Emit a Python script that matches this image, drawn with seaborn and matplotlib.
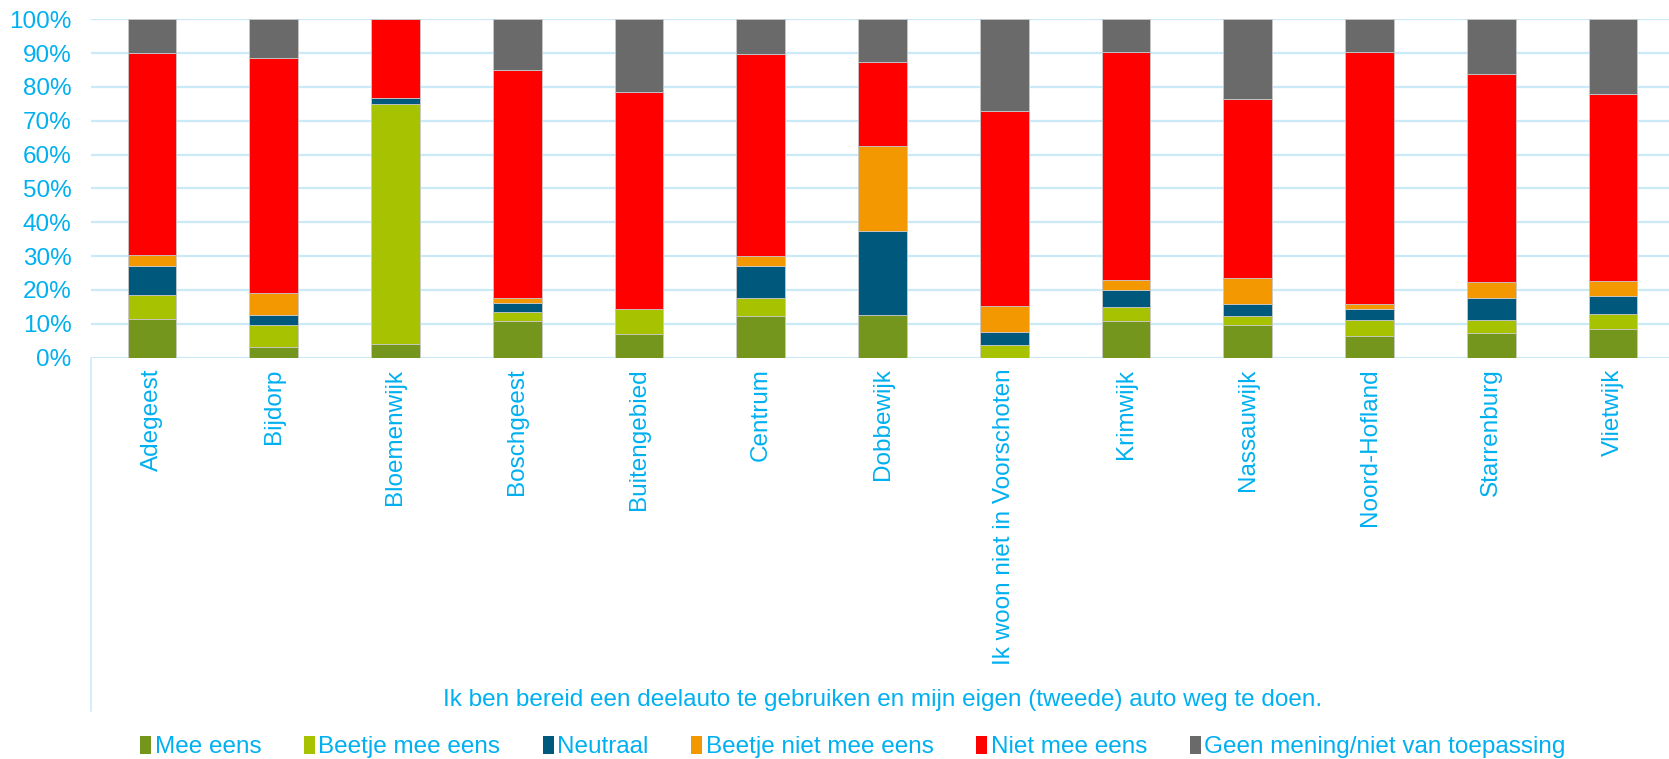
import numpy as np
import pandas as pd
import seaborn as sns
import matplotlib.pyplot as plt
from matplotlib.lines import Line2D
from matplotlib.patches import Patch

# wijken (categories)
wijken = ['Adegeest', 'Bijdorp', 'Bloemenwijk', 'Boschgeest', 'Buitengebied', 'Centrum',
          'Dobbewijk', 'Ik woon niet in Voorschoten', 'Krimwijk', 'Nassauwijk',
          'Noord-Hofland', 'Starrenburg', 'Vlietwijk']

# answer shares in percent
mee_eens = [11.5, 3.1, 4.0, 10.7, 7.0, 12.2, 12.5, 0.0, 10.7, 9.7, 6.3, 7.2, 8.5]
beetje_mee_eens = [6.9, 6.4, 70.9, 2.7, 7.2, 5.3, 0.0, 3.7, 4.1, 2.5, 4.7, 3.8, 4.4]
neutraal = [8.8, 3.2, 1.9, 2.7, 0.0, 9.7, 25.0, 3.8, 5.3, 3.7, 3.2, 6.6, 5.3]
beetje_niet = [3.0, 6.4, 0.0, 1.4, 0.0, 2.7, 25.0, 7.8, 2.8, 7.6, 1.6, 4.7, 4.5]
niet_mee_eens = [59.8, 69.5, 23.2, 67.6, 64.3, 59.9, 25.0, 57.7, 67.4, 52.8, 74.5, 61.6, 55.2]
geen_mening = [10.0, 11.4, 0.0, 14.9, 21.5, 10.2, 12.5, 27.0, 9.7, 23.7, 9.7, 16.1, 22.1]

labels = ['Mee eens', 'Beetje mee eens', 'Neutraal', 'Beetje niet mee eens',
          'Niet mee eens', 'Geen mening/niet van toepassing']
colors = ['#74961C', '#A6C200', '#00587D', '#F39800', '#FF0000', '#6A6A6A']

text_blue = '#00B0F0'
grid_blue = '#CBEAF8'
fs = 17.5

sns.set_style('white')
plt.rcParams['font.family'] = ['Liberation Sans', 'DejaVu Sans']

df = pd.DataFrame({'wijk': wijken})
series = [mee_eens, beetje_mee_eens, neutraal, beetje_niet, niet_mee_eens, geen_mening]

fig = plt.figure(figsize=(16.69, 7.59), dpi=100)
ax = fig.add_axes([91 / 1669, 401.5 / 759, 1583 / 1669, 338.2 / 759])

bottom = np.zeros(len(wijken))
for vals, lab, col in zip(series, labels, colors):
    vals = np.array(vals)
    sns.barplot(x=df['wijk'], y=vals, bottom=bottom, color=col, width=0.4, saturation=1,
                errorbar=None, edgecolor='#C8C8C8', linewidth=0.6, ax=ax)
    bottom = bottom + vals

ax.set_ylim(0, 100)
ax.set_xlim(-0.5, len(wijken) - 0.5)
ax.set_yticks(np.arange(0, 101, 10))
ax.set_yticklabels([f'{v}%' for v in range(0, 101, 10)])
ax.yaxis.grid(True, color=grid_blue, linewidth=1.6)
ax.set_axisbelow(True)
for s in ax.spines.values():
    s.set_visible(False)
ax.tick_params(axis='y', length=0, pad=14, labelsize=fs, labelcolor=text_blue)
ax.tick_params(axis='x', length=0, pad=8, labelsize=fs, labelcolor=text_blue, rotation=90)
ax.set_ylabel('')
ax.set_xlabel('Ik ben bereid een deelauto te gebruiken en mijn eigen (tweede) auto weg te doen.',
              fontsize=fs, color=text_blue, labelpad=17)

# category axis box line on the left
fig.add_artist(Line2D([91 / 1669, 91 / 1669], [1 - 711 / 759, 1 - 357.5 / 759],
                      color=grid_blue, linewidth=1.2))

handles = [Patch(facecolor=c, edgecolor='none') for c in colors]
fig.legend(handles, labels, loc='center', bbox_to_anchor=(0.511, 1 - 747 / 759), ncol=6,
           frameon=False, fontsize=fs, labelcolor=text_blue, handlelength=0.45,
           handleheight=0.8, handletextpad=0.15, columnspacing=1.75)

fig.savefig('out.png', dpi=100)
